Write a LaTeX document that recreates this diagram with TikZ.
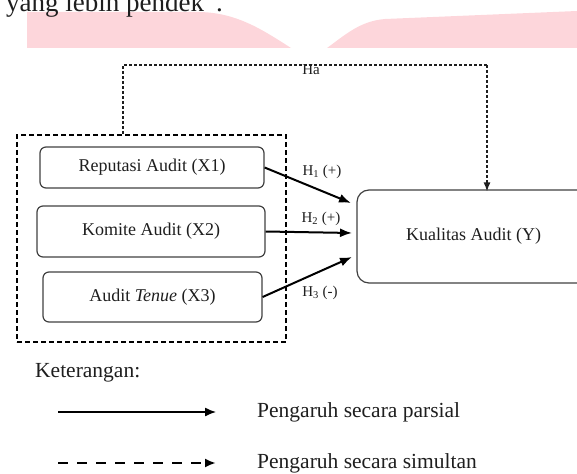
\documentclass[tikz,border=0pt]{standalone}
\usepackage{fontspec}
\setmainfont{Liberation Serif}
\usetikzlibrary{arrows.meta}
\definecolor{wmpink}{RGB}{253,214,219}
\definecolor{ink}{RGB}{30,30,30}
\tikzset{
  varbox/.style={draw=ink!85, line width=1.2pt, rounded corners=6pt, font=\fontsize{18}{20}\selectfont, text=ink},
  ybox/.style={draw=ink!85, line width=1.2pt, rounded corners=12pt, font=\fontsize{18}{20}\selectfont, text=ink},
  grpbox/.style={draw=black, line width=2pt, dash pattern=on 5pt off 3pt},
  hyp/.style={draw=black, line width=2pt, -{Latex[length=12pt,width=9pt]}},
  simul/.style={draw=ink, line width=1.3pt, dash pattern=on 3pt off 2pt},
  simularrow/.style={simul, -{Latex[length=9pt,width=7pt]}},
  hlab/.style={font=\fontsize{15}{17}\selectfont, text=ink, inner sep=0pt},
  legtext/.style={font=\fontsize{21.5}{24}\selectfont, text=ink, inner sep=0pt},
  legsolid/.style={draw=black, line width=1.3pt, -{Latex[length=11pt,width=9pt]}},
  legdash/.style={draw=black, line width=2.5pt, dash pattern=on 10pt off 9pt, -{Latex[length=11pt,width=9pt]}},
}
\begin{document}
\begin{tikzpicture}[x=1pt,y=-1pt]
\useasboundingbox (0,0) rectangle (577,473);
\clip (0,0) rectangle (577,473);
% watermark band
\fill[wmpink] (27,12) -- (200,12) .. controls (236,13) and (260,28) .. (291,48) -- (27,48) -- cycle;
\fill[wmpink] (327,48) .. controls (345,35) and (360,21) .. (385,19) -- (577,11) -- (577,48) -- cycle;
% cut-off text line (cut at the top edge as in the reference)
\node[anchor=base west, inner sep=0pt, font=\fontsize{27}{30}\selectfont, text=ink] (toptext) at (6,11.5) {yang lebih pendek”.};
% group box
\node[grpbox, minimum width=269pt, minimum height=207pt, inner sep=0pt] (grp) at (151.5,238.5) {};
% variable boxes
\node[varbox, minimum width=224pt, minimum height=41pt, inner sep=0pt] (X1) at (152,167.5) {Reputasi Audit (X1)};
\node[varbox, minimum width=228pt, minimum height=51pt, inner sep=0pt] (X2) at (151,231.5) {Komite Audit (X2)};
\node[varbox, minimum width=219pt, minimum height=50pt, inner sep=0pt] (X3) at (152.5,297) {Audit \textit{Tenue} (X3)};
\node[ybox, minimum width=233pt, minimum height=93pt, inner sep=0pt] (Y) at (473.5,236.5) {Kualitas Audit (Y)};
% hypothesis arrows
\coordinate (t1) at (351,203);
\coordinate (t2) at (352,233);
\coordinate (t3) at (352,257);
\draw[hyp] (X1.east) -- (t1);
\draw[hyp] (X2.east) -- (t2);
\draw[hyp] (X3.east) -- (t3);
\node[hlab] (h1) at (322,172) {H\textsubscript{1} (+)};
\node[hlab] (h2) at (321,219) {H\textsubscript{2} (+)};
\node[hlab] (h3) at (320,293) {H\textsubscript{3} (-)};
% simultaneous path
\coordinate (hal) at (123,65);
\coordinate (har) at (487,65);
\draw[simul] (hal |- grp.north) -- (hal) -- (har);
\draw[simularrow] (har) -- ([yshift=-2pt]har |- Y.north);
\node[hlab] (ha) at (311,70) {Ha};
% legend
\node[legtext, anchor=west] (ket) at (35,373) {Keterangan:};
\coordinate (l1a) at (58,412);
\coordinate (l1b) at (216,412);
\coordinate (l2a) at (58,463);
\coordinate (l2b) at (216,463);
\draw[legsolid] (l1a) -- (l1b);
\draw[legdash] (l2a) -- (l2b);
\node[legtext, anchor=west] (p1) at (257,412) {Pengaruh secara parsial};
\node[legtext, anchor=west] (p2) at (257,463) {Pengaruh secara simultan};
\end{tikzpicture}
\end{document}
